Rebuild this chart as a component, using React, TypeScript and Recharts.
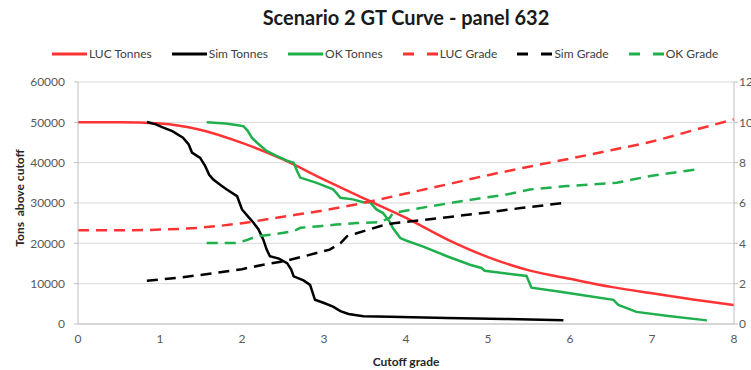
import { LineChart, Line, XAxis, YAxis, CartesianGrid, Label } from "recharts";

const RED = "#FF3333";
const BLACK = "#000000";
const GREEN = "#1FB04D";

const X_TICKS = [0, 1, 2, 3, 4, 5, 6, 7, 8];
const TONNE_TICKS = [0, 10000, 20000, 30000, 40000, 50000, 60000];
const GRADE_TICKS = [0, 2, 4, 6, 8, 10, 12];

// [cutoff, tonnes above cutoff]
const LUC_TONNES: [number, number][] = [
  [0, 50000], [0.5, 50000], [1, 49700], [1.5, 48100], [2, 44900], [2.5, 40800],
  [3, 35800], [3.5, 31000], [4, 26300], [4.5, 21000], [5, 16600], [5.5, 13300],
  [6, 11200], [6.5, 9200], [7, 7600], [7.5, 6100], [8, 4700],
];

const SIM_TONNES: [number, number][] = [
  [0.84, 50100], [0.95, 49500], [1.04, 48700], [1.15, 47800], [1.28, 46200],
  [1.35, 44500], [1.39, 42500], [1.49, 41200], [1.55, 39200], [1.6, 37000],
  [1.65, 35800], [1.75, 34300], [1.81, 33400], [1.94, 31700], [1.98, 29500],
  [2.0, 28400], [2.08, 26500], [2.14, 25100], [2.2, 23500], [2.26, 20900],
  [2.3, 18500], [2.34, 16800], [2.45, 16200], [2.55, 15100], [2.6, 13500],
  [2.63, 11800], [2.75, 10800], [2.83, 9700], [2.89, 6000], [3.0, 5200],
  [3.11, 4300], [3.2, 3200], [3.3, 2500], [3.48, 1900], [3.8, 1800],
  [4.5, 1500], [5.2, 1250], [5.92, 950],
];

const OK_TONNES: [number, number][] = [
  [1.57, 50000], [1.8, 49700], [1.95, 49300], [2.02, 49000], [2.07, 47900],
  [2.12, 46200], [2.18, 45000], [2.3, 42900], [2.42, 41700], [2.55, 40500],
  [2.63, 40000], [2.67, 38000], [2.71, 36300], [2.91, 35000], [3.11, 33400],
  [3.15, 32500], [3.2, 31300], [3.35, 30900], [3.48, 30200], [3.56, 30200],
  [3.64, 28400], [3.72, 27500], [3.8, 25400], [3.84, 23800], [3.93, 21300],
  [4.0, 20700], [4.21, 19200], [4.5, 16800], [4.78, 14700], [4.92, 13900],
  [4.96, 13200], [5.2, 12600], [5.47, 11900], [5.53, 9000], [5.88, 8000],
  [6.2, 7000], [6.53, 6000], [6.59, 4700], [6.81, 3000], [7.2, 2000], [7.67, 900],
];

// [cutoff, grade above cutoff]
const LUC_GRADE: [number, number][] = [
  [0, 4.65], [0.5, 4.65], [1, 4.68], [1.5, 4.78], [2, 5.0], [2.5, 5.32],
  [3, 5.64], [3.5, 6.02], [4, 6.47], [4.5, 6.92], [5, 7.38], [5.5, 7.8],
  [6, 8.2], [6.5, 8.62], [7, 9.05], [7.5, 9.6], [8, 10.15],
];

const SIM_GRADE: [number, number][] = [
  [0.84, 2.15], [1.25, 2.3], [1.65, 2.52], [2.0, 2.72], [2.26, 2.94],
  [2.5, 3.1], [2.75, 3.35], [3.07, 3.69], [3.2, 4.0], [3.28, 4.35],
  [3.4, 4.5], [3.68, 4.85], [3.85, 5.0], [4.4, 5.25], [4.94, 5.5],
  [5.4, 5.75], [5.92, 6.0],
];

const OK_GRADE: [number, number][] = [
  [1.57, 4.02], [1.94, 4.02], [2.05, 4.15], [2.18, 4.35], [2.4, 4.45],
  [2.63, 4.6], [2.71, 4.77], [2.95, 4.85], [3.15, 4.93], [3.4, 5.01],
  [3.68, 5.05], [3.8, 5.26], [3.84, 5.5], [4.1, 5.7], [4.54, 6.0],
  [4.94, 6.26], [5.2, 6.4], [5.51, 6.67], [5.96, 6.84], [6.57, 7.0],
  [6.98, 7.34], [7.55, 7.67],
];

type Series = {
  name: string;
  points: [number, number][];
  color: string;
  axis: "t" | "g";
  dashed: boolean;
  smooth: boolean;
};

const SERIES: Series[] = [
  { name: "LUC Tonnes", points: LUC_TONNES, color: RED, axis: "t", dashed: false, smooth: true },
  { name: "Sim Tonnes", points: SIM_TONNES, color: BLACK, axis: "t", dashed: false, smooth: false },
  { name: "OK Tonnes", points: OK_TONNES, color: GREEN, axis: "t", dashed: false, smooth: false },
  { name: "LUC Grade", points: LUC_GRADE, color: RED, axis: "g", dashed: true, smooth: true },
  { name: "Sim Grade", points: SIM_GRADE, color: BLACK, axis: "g", dashed: true, smooth: false },
  { name: "OK Grade", points: OK_GRADE, color: GREEN, axis: "g", dashed: true, smooth: false },
];

const toPoints = (pts: [number, number][]) => pts.map(([x, v]) => ({ x, v }));

const TICK = { fill: "#595959", fontSize: 12 };
const AXIS_LINE = { stroke: "#BFBFBF" };

function LegendRow() {
  return (
    <div
      style={{
        position: "absolute",
        top: 46,
        left: 52,
        display: "flex",
        alignItems: "center",
        gap: 20,
        fontSize: 12,
        color: "#404040",
      }}
    >
      {SERIES.map((s) => (
        <div key={s.name} style={{ display: "flex", alignItems: "center", gap: 2 }}>
          <svg width={35} height={14}>
            <line
              x1={0}
              x2={35}
              y1={7}
              y2={7}
              stroke={s.color}
              strokeWidth={3}
              strokeDasharray={s.dashed ? "11 13" : undefined}
            />
          </svg>
          <span>{s.name}</span>
        </div>
      ))}
    </div>
  );
}

export default function App() {
  return (
    <div
      style={{
        position: "absolute",
        left: 0,
        top: 0,
        width: 751,
        height: 370,
        overflow: "hidden",
        background: "#fff",
        fontFamily: "Lato, 'Open Sans', sans-serif",
      }}
    >
      <LineChart
        width={751}
        height={370}
        margin={{ top: 82, right: 0, bottom: 0, left: 0 }}
      >
        <CartesianGrid yAxisId="t" vertical={false} stroke="#D9D9D9" />
        <XAxis
          dataKey="x"
          type="number"
          domain={[0, 8]}
          ticks={X_TICKS}
          height={46}
          tick={TICK}
          tickLine={false}
          tickMargin={4}
          axisLine={AXIS_LINE}
          allowDuplicatedCategory={false}
        >
          <Label
            value="Cutoff grade"
            position="insideBottom"
            offset={4}
            style={{ fontSize: 12, fontWeight: "bold", fill: "#262626" }}
          />
        </XAxis>
        <YAxis
          yAxisId="t"
          domain={[0, 60000]}
          ticks={TONNE_TICKS}
          width={78}
          tick={TICK}
          tickSize={4}
          tickMargin={9}
          tickLine={AXIS_LINE}
          axisLine={AXIS_LINE}
        >
          <Label
            value={"Tons\u00a0 above cutoff"}
            position="center"
            angle={-90}
            dx={-19}
            dy={-5}
            style={{ fontSize: 12, fontWeight: "bold", fill: "#262626" }}
          />
        </YAxis>
        <YAxis
          yAxisId="g"
          orientation="right"
          domain={[0, 12]}
          ticks={GRADE_TICKS}
          width={17}
          tick={{ ...TICK, textAnchor: "start" }}
          tickSize={4}
          tickMargin={1}
          tickLine={AXIS_LINE}
          axisLine={AXIS_LINE}
        />
        {SERIES.map((s) => (
          <Line
            key={s.name}
            name={s.name}
            yAxisId={s.axis}
            data={toPoints(s.points)}
            dataKey="v"
            type={s.smooth ? "monotone" : "linear"}
            stroke={s.color}
            strokeWidth={2.5}
            strokeDasharray={s.dashed ? "11 7" : undefined}
            dot={false}
            activeDot={false}
            isAnimationActive={false}
          />
        ))}
      </LineChart>
      <div
        style={{
          position: "absolute",
          top: 5,
          left: 0,
          width: 812,
          textAlign: "center",
          fontSize: 20,
          fontWeight: "bold",
          color: "#1a1a1a",
        }}
      >
        Scenario 2 GT Curve - panel 632
      </div>
      <LegendRow />
    </div>
  );
}
